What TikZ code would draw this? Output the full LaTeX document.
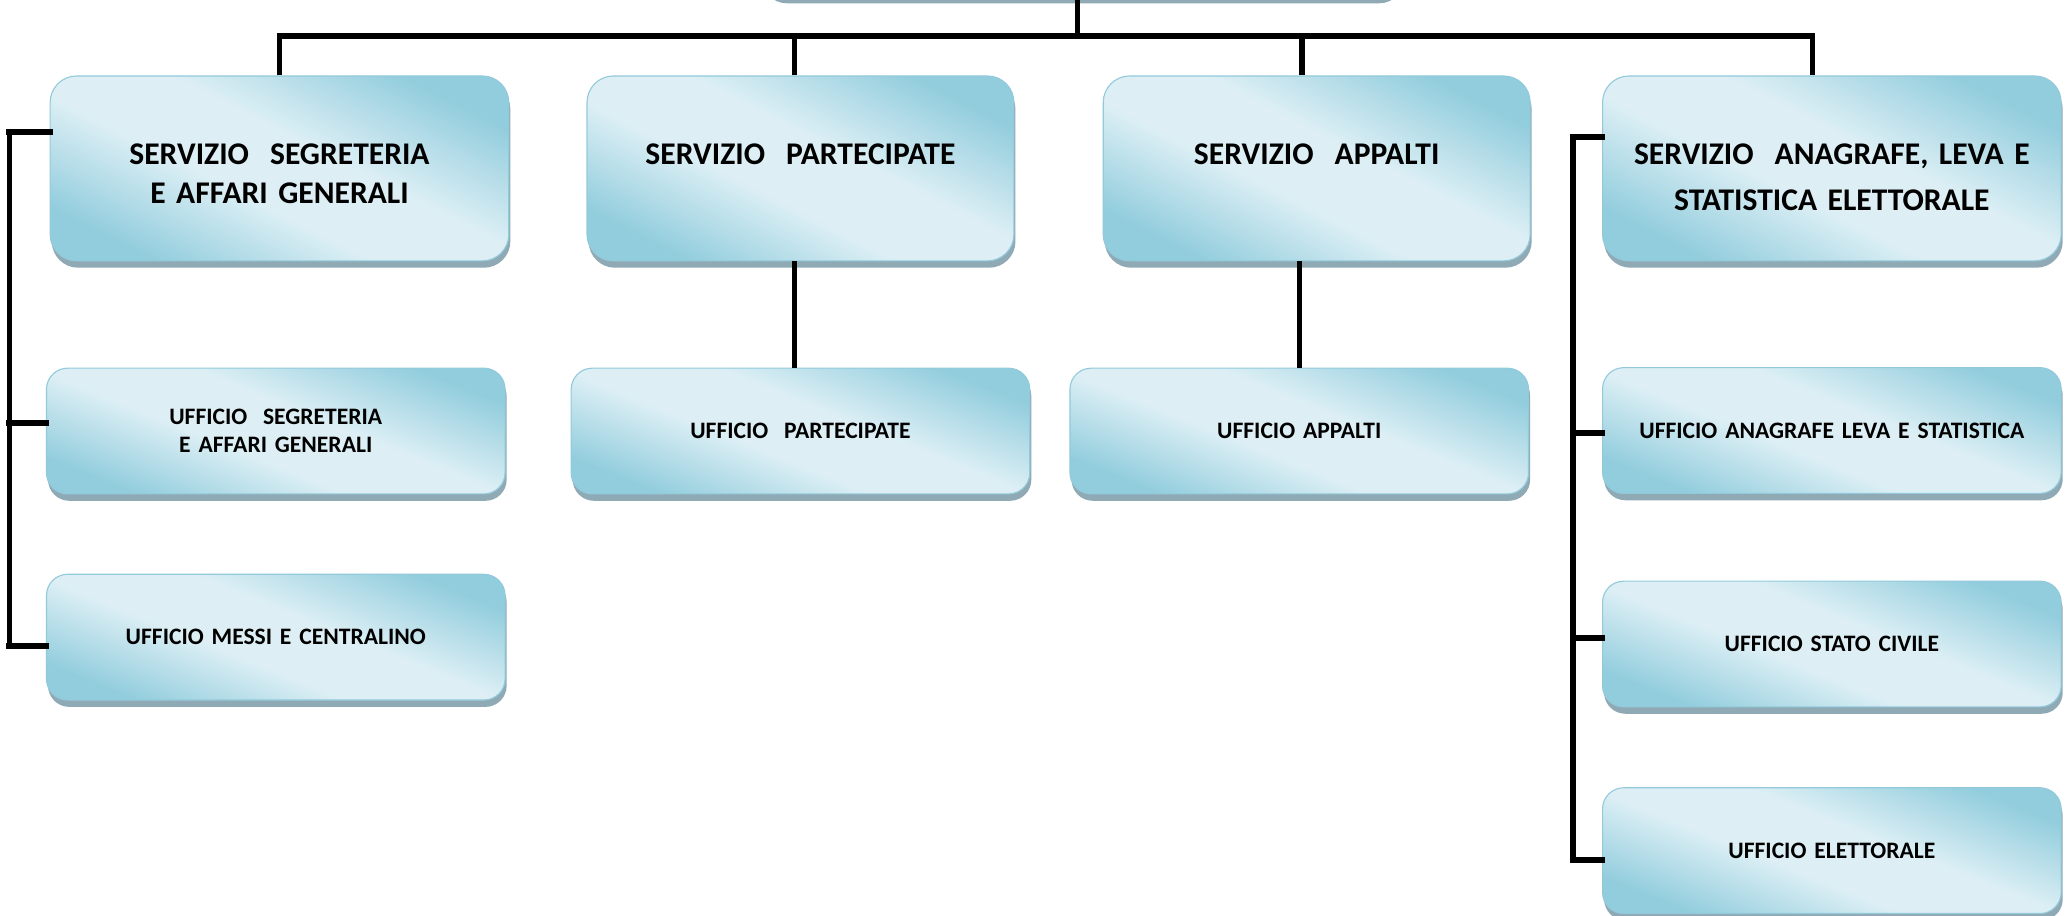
\documentclass[tikz,border=0pt]{standalone}
\usepackage{fontspec}
\setmainfont{Carlito}
\usepackage{xcolor}
\definecolor{boxDark}{HTML}{92CDDD}
\definecolor{boxLight}{HTML}{DDEFF5}
\definecolor{boxEdge}{HTML}{93CADB}
\definecolor{shadowBlue}{HTML}{8FAAB5}
\usepackage{tikz}
\usetikzlibrary{positioning,shadows,calc}
\pgfdeclareverticalshading{boxShade}{100bp}{%
  color(0bp)=(boxDark); color(25bp)=(boxDark); color(43bp)=(boxLight);
  color(56bp)=(boxLight); color(75bp)=(boxDark); color(100bp)=(boxDark)}
\tikzset{%
  baseBox/.style={%
    rectangle,
    draw=boxEdge,
    line width=0.6pt,
    shading=boxShade,
    shading angle=-27,
    drop shadow={shadow xshift=0.03cm, shadow yshift=-0.13cm, fill=shadowBlue, opacity=1},
    align=center,
    inner xsep=0.2cm
  },
  serviceBox/.style={%
    baseBox,
    rounded corners=0.5cm,
    text width=8.28cm,
    inner ysep=0pt,
    text height=1.68cm,
    text depth=1.82cm,
    font=\fontsize{17}{21}\selectfont\bfseries
  },
  narrowBox/.style={%
    text width=7.68cm
  },
  officeBox/.style={%
    baseBox,
    rounded corners=0.4cm,
    text width=8.28cm,
    minimum height=2.38cm,
    shading angle=-22,
    font=\fontsize{12.7}{15}\selectfont\bfseries
  },
  orgLine/.style={%
    line width=2.8pt,
    color=black
  },
  stubLine/.style={%
    line width=3.3pt,
    line cap=rect,
    color=black
  }
}

\begin{document}
\begin{tikzpicture}[node distance=2.04cm]
            \useasboundingbox (0,0) rectangle (39.2,17.338);
            \clip (0,0) rectangle (39.2,17.338);

            \node[serviceBox, text width=11.8cm] (capo) at (20.47,19.155) {};
            \node[serviceBox] (segreteria) at (5.29,14.15) {SERVIZIO\ \ SEGRETERIA\\E AFFARI GENERALI};
            \node[serviceBox, narrowBox, right=1.46cm of segreteria] (partecipate) {SERVIZIO\ \ PARTECIPATE};
            \node[serviceBox, narrowBox, right=1.67cm of partecipate] (appalti) {SERVIZIO\ \ APPALTI};
            \node[serviceBox, right=1.35cm of appalti] (anagrafe) {SERVIZIO\ \ ANAGRAFE, LEVA E\\[3.8pt]STATISTICA ELETTORALE};

            \node[officeBox, below=2.01cm of segreteria, xshift=-0.07cm] (ufSegreteria) {UFFICIO\ \ SEGRETERIA\\E AFFARI GENERALI};
            \node[officeBox, below=1.5cm of ufSegreteria] (messi) {UFFICIO MESSI E CENTRALINO};
            \node[officeBox, below=2.01cm of partecipate] (ufPartecipate) {UFFICIO\ \ PARTECIPATE};
            \node[officeBox, below=2.01cm of appalti, xshift=-0.33cm] (ufAppalti) {UFFICIO APPALTI};
            \node[officeBox, below=2.0cm of anagrafe] (ufAnagrafe) {UFFICIO ANAGRAFE LEVA E STATISTICA};
            \node[officeBox, below=1.64cm of ufAnagrafe] (statoCivile) {UFFICIO STATO CIVILE};
            \node[officeBox, below=1.51cm of statoCivile] (elettorale) {UFFICIO ELETTORALE};

            \coordinate (bar) at (0,16.655);
            \coordinate (leftBus) at (0.175,0);
            \coordinate (rightBus) at (29.775,0);

            \draw[orgLine] ([xshift=-0.075cm]capo.south) -- ([xshift=-0.075cm]capo.south |- bar);
            \draw[orgLine] (segreteria.north) -- (segreteria.north |- bar) -| ([xshift=-0.37cm]anagrafe.north);
            \draw[orgLine] ([xshift=-0.12cm]partecipate.north) -- ([xshift=-0.12cm]partecipate.north |- bar);
            \draw[orgLine] ([xshift=-0.28cm]appalti.north) -- ([xshift=-0.28cm]appalti.north |- bar);
            \draw[orgLine] ([xshift=-0.12cm]partecipate.south) -- ([xshift=-0.12cm]partecipate.south |- ufPartecipate.north);
            \draw[orgLine] (ufAppalti.north) -- (ufAppalti.north |- appalti.south);

            \draw[orgLine] ([yshift=0.695cm]segreteria.west -| leftBus) -- ([yshift=-0.16cm]messi.west -| leftBus);
            \draw[stubLine] ([yshift=0.695cm]segreteria.west) -- ([yshift=0.695cm]segreteria.west -| leftBus);
            \draw[stubLine] ([yshift=0.15cm]ufSegreteria.west) -- ([yshift=0.15cm]ufSegreteria.west -| leftBus);
            \draw[stubLine] ([yshift=-0.16cm]messi.west) -- ([yshift=-0.16cm]messi.west -| leftBus);

            \draw[orgLine] ([yshift=0.59cm]anagrafe.west -| rightBus) -- ([yshift=-0.17cm]elettorale.west -| rightBus);
            \draw[stubLine] ([yshift=0.59cm]anagrafe.west) -- ([yshift=0.59cm]anagrafe.west -| rightBus);
            \draw[stubLine] ([yshift=-0.05cm]ufAnagrafe.west) -- ([yshift=-0.05cm]ufAnagrafe.west -| rightBus);
            \draw[stubLine] ([yshift=0.115cm]statoCivile.west) -- ([yshift=0.115cm]statoCivile.west -| rightBus);
            \draw[stubLine] ([yshift=-0.17cm]elettorale.west) -- ([yshift=-0.17cm]elettorale.west -| rightBus);
        \end{tikzpicture}
\end{document}
